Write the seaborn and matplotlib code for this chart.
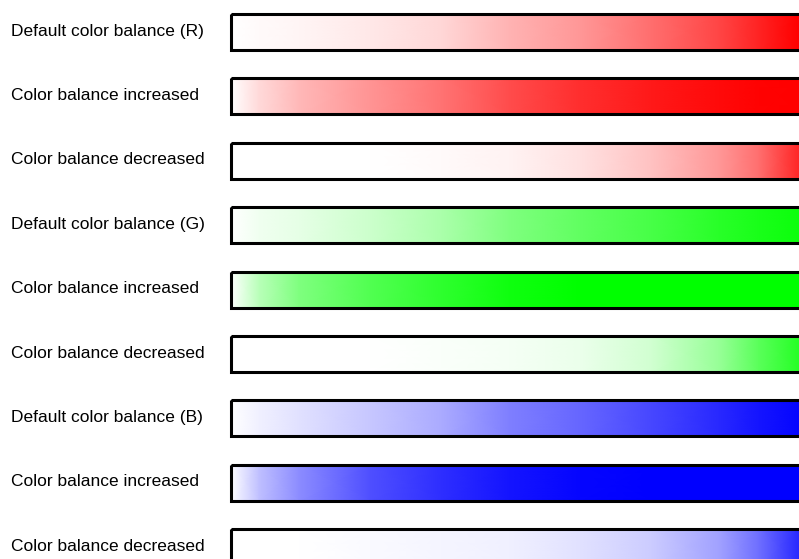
import numpy as np
import matplotlib
matplotlib.use("Agg")
import matplotlib.pyplot as plt
import matplotlib.transforms as mtransforms
from matplotlib.patches import Rectangle
import seaborn as sns

# row labels, top to bottom
labels = [
    "Default color balance (R)",
    "Color balance increased",
    "Color balance decreased",
    "Default color balance (G)",
    "Color balance increased",
    "Color balance decreased",
    "Default color balance (B)",
    "Color balance increased",
    "Color balance decreased",
]
channels = ["#FF0000"] * 3 + ["#00FF00"] * 3 + ["#0000FF"] * 3

# sample positions along each bar (% of bar length)
stops = [0, 5, 12, 24.5, 37, 49, 61.5, 74, 86, 93, 100]

# colour strength (0 = white, 1 = pure channel) read at each stop
default_r = [0, 0.02, 0.04, 0.09, 0.16, 0.30, 0.41, 0.57, 0.73, 0.86, 1.0]
increased_r = [0, 0.15, 0.28, 0.42, 0.55, 0.70, 0.82, 0.90, 0.96, 0.99, 1.0]
decreased_r = [0, 0, 0, 0, 0.02, 0.05, 0.12, 0.24, 0.41, 0.57, 0.85]
default_g = [0, 0.06, 0.10, 0.20, 0.33, 0.50, 0.62, 0.72, 0.84, 0.90, 0.95]
increased_g = [0, 0.28, 0.50, 0.68, 0.82, 0.94, 1.0, 1.0, 1.0, 1.0, 1.0]
decreased_g = [0, 0, 0, 0, 0.02, 0.04, 0.08, 0.18, 0.41, 0.65, 0.85]
default_b = [0, 0.06, 0.12, 0.22, 0.33, 0.50, 0.60, 0.72, 0.84, 0.92, 0.98]
increased_b = [0, 0.25, 0.45, 0.69, 0.82, 0.92, 0.98, 1.0, 1.0, 1.0, 1.0]
decreased_b = [0, 0, 0, 0.02, 0.04, 0.06, 0.12, 0.20, 0.37, 0.57, 0.84]

rows = [default_r, increased_r, decreased_r,
        default_g, increased_g, decreased_g,
        default_b, increased_b, decreased_b]

sns.set_style("white")
plt.rcParams["font.family"] = ["Liberation Sans", "DejaVu Sans"]

fig = plt.figure(figsize=(7.99, 5.59), dpi=100)
# bar area: starts at ~231 px and runs off the right edge
ax = fig.add_axes([228 / 799, 0, 571 / 799, 1])
ax.set_xlim(-3 / 5.68, 100)
ax.set_ylim(8.183, -0.497)
ax.axis("off")

h = 0.56
for i, (vals, col) in enumerate(zip(rows, channels)):
    cmap = sns.blend_palette(["white", col], as_cmap=True)
    X, Y = np.meshgrid(stops, [i - h / 2, i + h / 2])
    C = np.vstack([vals, vals])
    ax.pcolormesh(X, Y, C, shading="gouraud", cmap=cmap, vmin=0, vmax=1)
    ax.add_patch(Rectangle((0, i - h / 2), 103, h, fill=False,
                           ec="black", lw=2.2))

trans = mtransforms.blended_transform_factory(fig.transFigure, ax.transData)
trans = trans + mtransforms.ScaledTranslation(0, -3.5 / 100, fig.dpi_scale_trans)
for i, lab in enumerate(labels):
    fig.text(11 / 799, i, lab, transform=trans, ha="left", va="baseline",
             fontsize=12.5, color="black")

fig.savefig("out.png", dpi=100)
